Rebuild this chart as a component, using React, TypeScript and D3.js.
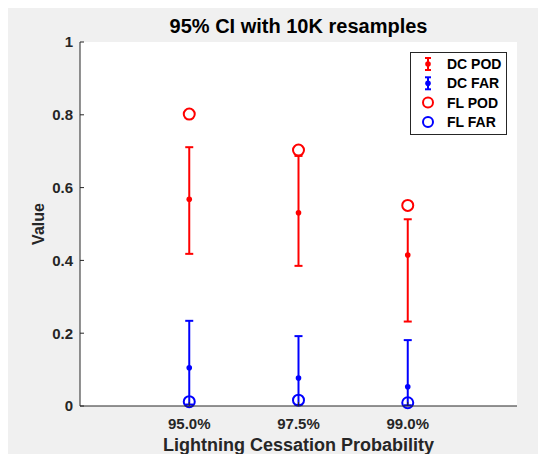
import React from 'react';
import * as d3 from 'd3';

// categories on the x axis (positions 1..3)
const categories = ['95.0%', '97.5%', '99.0%'];

// DC estimates with 95% CI bounds
const dcPod = [0.568, 0.531, 0.415];
const dcPodLow = [0.418, 0.385, 0.232];
const dcPodHigh = [0.711, 0.687, 0.513];

const dcFar = [0.105, 0.077, 0.053];
const dcFarLow = [0.004, 0.003, 0.002];
const dcFarHigh = [0.234, 0.192, 0.181];

// FL point values
const flPod = [0.802, 0.703, 0.551];
const flFar = [0.012, 0.016, 0.009];

const yTicks = [0, 0.2, 0.4, 0.6, 0.8, 1];

const legendItems = [
  { label: 'DC POD', color: '#ff0000', kind: 'err' },
  { label: 'DC FAR', color: '#0000ff', kind: 'err' },
  { label: 'FL POD', color: '#ff0000', kind: 'circle' },
  { label: 'FL FAR', color: '#0000ff', kind: 'circle' },
];

const App = () => {
  const width = 546;
  const height = 454;
  // plot area in page coordinates
  const left = 80;
  const right = 517;
  const top = 42;
  const bottom = 406;
  const axisColor = '#262626';
  const font = 'Liberation Sans, Arial, Helvetica, sans-serif';

  const xScale = d3.scaleLinear().domain([0, 4]).range([left, right]);
  const yScale = d3.scaleLinear().domain([0, 1]).range([bottom, top]);

  const errSeries = [
    { mid: dcPod, lo: dcPodLow, hi: dcPodHigh, color: '#ff0000' },
    { mid: dcFar, lo: dcFarLow, hi: dcFarHigh, color: '#0000ff' },
  ];
  const circleSeries = [
    { vals: flPod, color: '#ff0000' },
    { vals: flFar, color: '#0000ff' },
  ];

  const capW = 4;

  return (
    <svg
      width={width - 8}
      height={height - 8}
      style={{ display: 'block', background: '#f0f0f0' }}
    >
      <g transform="translate(-8,-8)" fontFamily={font}>
        <rect x={left} y={top} width={right - left} height={bottom - top} fill="#ffffff" />

        {/* error bars */}
        {errSeries.map((s, si) => (
          <g key={`err-${si}`} stroke={s.color} strokeWidth={2} fill={s.color}>
            {s.mid.map((v, i) => {
              const cx = xScale(i + 1);
              return (
                <g key={i}>
                  <line x1={cx} x2={cx} y1={yScale(s.lo[i])} y2={yScale(s.hi[i])} />
                  <line x1={cx - capW} x2={cx + capW} y1={yScale(s.lo[i])} y2={yScale(s.lo[i])} />
                  <line x1={cx - capW} x2={cx + capW} y1={yScale(s.hi[i])} y2={yScale(s.hi[i])} />
                  <circle cx={cx} cy={yScale(v)} r={2.8} stroke="none" />
                </g>
              );
            })}
          </g>
        ))}

        {/* FL markers */}
        {circleSeries.map((s, si) => (
          <g key={`fl-${si}`} stroke={s.color} strokeWidth={2} fill="none">
            {s.vals.map((v, i) => (
              <circle key={i} cx={xScale(i + 1)} cy={yScale(v)} r={5.5} />
            ))}
          </g>
        ))}

        {/* axes */}
        <g stroke={axisColor} strokeWidth={1} fill="none">
          <line x1={left} x2={left} y1={top} y2={bottom} />
          <line x1={left} x2={right} y1={bottom} y2={bottom} />
          {yTicks.map((t) => (
            <line key={`yt-${t}`} x1={left} x2={left + 4} y1={yScale(t)} y2={yScale(t)} />
          ))}
          {categories.map((c, i) => (
            <line key={`xt-${c}`} x1={xScale(i + 1)} x2={xScale(i + 1)} y1={bottom} y2={bottom - 4} />
          ))}
        </g>
        <g fill={axisColor} fontSize={15} fontWeight="bold">
          {yTicks.map((t) => (
            <text key={`yl-${t}`} x={left - 7} y={yScale(t)} dy="0.36em" textAnchor="end">
              {d3.format('~g')(t)}
            </text>
          ))}
          {categories.map((c, i) => (
            <text key={`xl-${c}`} x={xScale(i + 1)} y={bottom + 23} textAnchor="middle">
              {c}
            </text>
          ))}
        </g>

        {/* labels */}
        <text x={(left + right) / 2} y={33} textAnchor="middle" fontSize={20} fontWeight="bold" fill="#000">
          95% CI with 10K resamples
        </text>
        <text
          transform={`translate(44, ${(top + bottom) / 2}) rotate(-90)`}
          textAnchor="middle"
          fontSize={16}
          fontWeight="bold"
          fill={axisColor}
        >
          Value
        </text>
        <text x={(left + right) / 2} y={451} textAnchor="middle" fontSize={18} fontWeight="bold" fill={axisColor}>
          Lightning Cessation Probability
        </text>

        {/* legend */}
        <g>
          <rect x={410.5} y={52.5} width={96} height={82} fill="#ffffff" stroke={axisColor} strokeWidth={1} />
          {legendItems.map((d, i) => {
            const cy = 64 + i * 19.3;
            const mx = 428;
            return (
              <g key={d.label}>
                {d.kind === 'err' ? (
                  <g stroke={d.color} strokeWidth={2} fill={d.color}>
                    <line x1={mx} x2={mx} y1={cy - 6} y2={cy + 6} />
                    <line x1={mx - 3} x2={mx + 3} y1={cy - 6} y2={cy - 6} />
                    <line x1={mx - 3} x2={mx + 3} y1={cy + 6} y2={cy + 6} />
                    <circle cx={mx} cy={cy} r={2.8} stroke="none" />
                  </g>
                ) : (
                  <circle cx={mx} cy={cy} r={5} stroke={d.color} strokeWidth={2} fill="none" />
                )}
                <text x={447} y={cy} dy="0.36em" fontSize={14} fontWeight="bold" fill="#000">
                  {d.label}
                </text>
              </g>
            );
          })}
        </g>
      </g>
    </svg>
  );
};

export default App;
